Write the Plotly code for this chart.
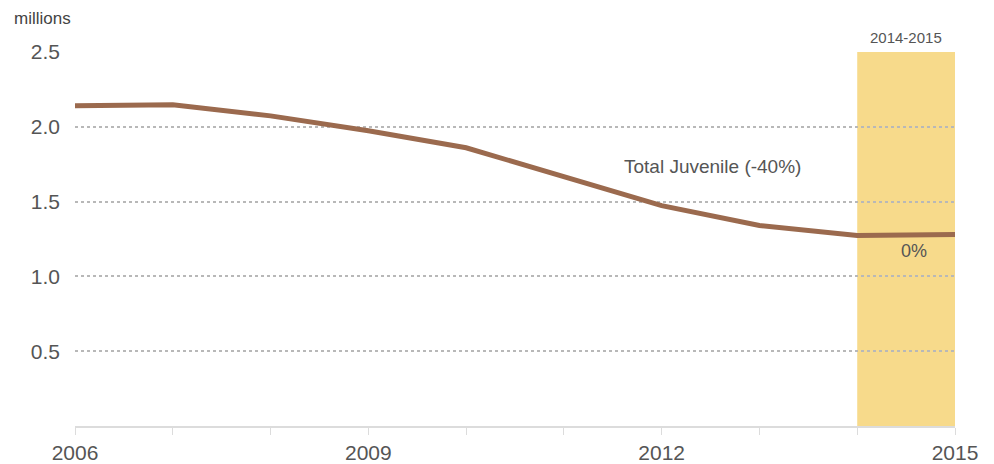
import plotly.graph_objects as go

years = [2006, 2007, 2008, 2009, 2010, 2011, 2012, 2013, 2014, 2015]
juvenile = [2.14, 2.147, 2.073, 1.973, 1.86, 1.667, 1.473, 1.34, 1.273, 1.28]
x_labels = ["2006", "", "", "2009", "", "", "2012", "", "", "2015"]
y_ticks = [0.5, 1.0, 1.5, 2.0, 2.5]
y_labels = ["0.5", "1.0", "1.5", "2.0", "2.5"]
highlight = [2014, 2015]

grey = "#555555"
font_main = "Liberation Sans, Arial, sans-serif"

# page has an 8px body margin; figure coordinates are offset accordingly
L, T, PW, PH = 67, 44, 880, 374
W, H = 994, 464

fig = go.Figure()

fig.add_shape(type="rect", xref="x", yref="y", x0=highlight[0], x1=highlight[1],
              y0=0, y1=2.5, fillcolor="#F7DA8B", line=dict(width=0), layer="below")

fig.add_trace(go.Scatter(x=years, y=juvenile, mode="lines",
                         line=dict(color="#9B6A4E", width=5), hoverinfo="skip",
                         showlegend=False))

fig.add_annotation(x=(highlight[0] + highlight[1]) / 2, y=2.5, yref="y", xref="x",
                   text="2014-2015", showarrow=False, yanchor="bottom", yshift=4,
                   font=dict(family=font_main, size=15, color=grey))
fig.add_annotation(x=2012.52, y=1.735, text="Total Juvenile (-40%)",
                   showarrow=False, font=dict(family=font_main, size=19, color=grey))
fig.add_annotation(x=2014.58, y=1.167, text="0%",
                   showarrow=False, font=dict(family=font_main, size=18, color=grey))
fig.add_annotation(xref="paper", yref="paper", x=(4 - L) / PW, y=1 + (T - 10) / PH,
                   text="millions", showarrow=False, xanchor="left", yanchor="middle",
                   font=dict(family=font_main, size=17, color="#444444"))

fig.update_layout(
    width=W, height=H,
    margin=dict(l=L, r=W - L - PW, t=T, b=H - T - PH, autoexpand=False),
    plot_bgcolor="white", paper_bgcolor="white",
    xaxis=dict(range=[2006, 2015], tickvals=years, ticktext=x_labels, automargin=False,
               showgrid=False, zeroline=False, showline=True, linecolor="#dcdcdc",
               linewidth=2, ticks="outside", ticklen=7, tickcolor="#dcdcdc",
               tickwidth=1, tickfont=dict(family=font_main, size=21, color=grey)),
    yaxis=dict(range=[0, 2.5], tickvals=y_ticks, ticktext=y_labels, automargin=False,
               showgrid=True, gridcolor="#b8b8b8", gridwidth=2, griddash="dot",
               zeroline=False, showline=False, ticks="", ticklabelstandoff=14,
               tickfont=dict(family=font_main, size=21, color=grey)),
)

fig.write_html("out.html")
